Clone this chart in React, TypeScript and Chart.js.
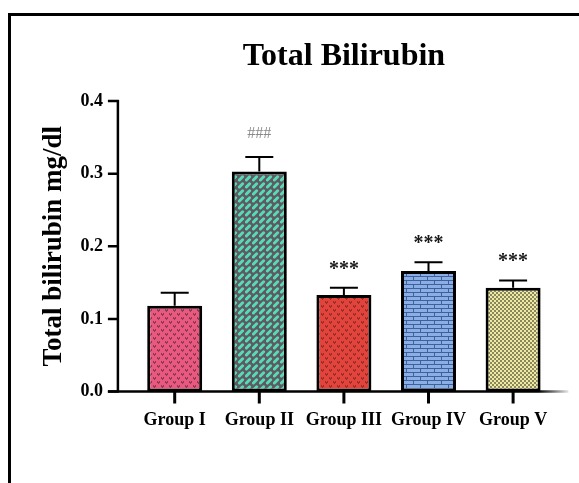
import React, { useEffect, useRef } from "react";
import { Chart, registerables } from "chart.js";

Chart.register(...registerables);

// Serum total bilirubin per treatment group (mean ± SEM, mg/dl)
const groups = ["Group I", "Group II", "Group III", "Group IV", "Group V"];
const bilirubinMean = [0.118, 0.303, 0.133, 0.166, 0.143];
const bilirubinSem = [0.018, 0.02, 0.01, 0.012, 0.01];
const significance = ["", "###", "***", "***", "***"];
const yTickValues = [0, 0.1, 0.2, 0.3, 0.4];

const SERIF = '"Liberation Serif", "Times New Roman", "DejaVu Serif", serif';
const W = 579;
const H = 483;

type Painter = (g: CanvasRenderingContext2D) => void;

function tile(ctx: CanvasRenderingContext2D, w: number, h: number, paint: Painter) {
  const c = document.createElement("canvas");
  c.width = w;
  c.height = h;
  const g = c.getContext("2d") as CanvasRenderingContext2D;
  paint(g);
  return ctx.createPattern(c, "repeat") as CanvasPattern;
}

function heartTile(base: string, mark: string): Painter {
  return (g) => {
    g.fillStyle = base;
    g.fillRect(0, 0, 8, 8);
    g.fillStyle = mark;
    for (const [ox, oy] of [[0, 0], [4, 4]]) {
      g.fillRect(ox + 1, oy + 1, 1, 1);
      g.fillRect(ox + 3, oy + 1, 1, 1);
      g.fillRect(ox + 1, oy + 2, 3, 1);
      g.fillRect(ox + 2, oy + 3, 1, 1);
    }
  };
}

const dashTile: Painter = (g) => {
  g.fillStyle = "#5e5a64";
  g.fillRect(0, 0, 7, 7);
  g.strokeStyle = "#56dcb4";
  g.lineWidth = 3;
  g.lineCap = "round";
  g.beginPath();
  g.moveTo(1.4, 5.0);
  g.lineTo(4.6, 1.8);
  g.stroke();
};

const brickTile: Painter = (g) => {
  g.fillStyle = "#8aaee6";
  g.fillRect(0, 0, 14, 8);
  g.fillStyle = "#40609a";
  g.fillRect(0, 0, 14, 1);
  g.fillRect(0, 4, 14, 1);
  g.fillRect(0, 0, 1, 4);
  g.fillRect(7, 4, 1, 4);
};

const checkTile: Painter = (g) => {
  g.fillStyle = "#eeeaa2";
  g.fillRect(0, 0, 4, 4);
  g.fillStyle = "#8a875e";
  g.fillRect(0, 0, 2, 2);
  g.fillRect(2, 2, 2, 2);
};

const frameAxes = {
  id: "frameAxes",
  afterDatasetsDraw(chart: any) {
    const { ctx } = chart;
    const yScale = chart.scales.y;
    const meta = chart.getDatasetMeta(0);
    ctx.save();
    ctx.strokeStyle = "#000";
    ctx.lineWidth = 2;
    meta.data.forEach((bar: any, i: number) => {
      const top = yScale.getPixelForValue(bilirubinMean[i] + bilirubinSem[i]);
      ctx.beginPath();
      ctx.moveTo(bar.x, bar.y);
      ctx.lineTo(bar.x, top);
      ctx.moveTo(bar.x - 14, top);
      ctx.lineTo(bar.x + 14, top);
      ctx.stroke();

      const mark = significance[i];
      if (mark) {
        const cy = top - 23;
        ctx.textAlign = "center";
        if (mark.startsWith("#")) {
          ctx.fillStyle = "#8a8a8a";
          ctx.font = `16px ${SERIF}`;
          ctx.textBaseline = "middle";
          ctx.fillText(mark, bar.x, cy);
        } else {
          ctx.fillStyle = "#1a1a1a";
          ctx.font = `bold 20px ${SERIF}`;
          ctx.textBaseline = "alphabetic";
          ctx.fillText(mark, bar.x, cy + 10);
        }
      }
    });
    ctx.restore();
  },
  afterDraw(chart: any) {
    const { ctx, chartArea } = chart;
    const yScale = chart.scales.y;
    const meta = chart.getDatasetMeta(0);
    const axisX = chartArea.left - 14.5;
    const base = chartArea.bottom;
    ctx.save();
    ctx.strokeStyle = "#000";
    ctx.lineCap = "butt";

    // y axis line and ticks
    ctx.lineWidth = 2.5;
    ctx.beginPath();
    ctx.moveTo(axisX, chartArea.top - 1);
    ctx.lineTo(axisX, base);
    yTickValues.forEach((v) => {
      const py = yScale.getPixelForValue(v);
      ctx.moveTo(axisX - 10, py);
      ctx.lineTo(axisX + 1, py);
    });
    ctx.stroke();

    // x axis line fading out on the right
    const right = chartArea.right + 13;
    const grad = ctx.createLinearGradient(right - 30, 0, right, 0);
    grad.addColorStop(0, "rgba(0,0,0,1)");
    grad.addColorStop(1, "rgba(0,0,0,0.1)");
    ctx.strokeStyle = grad;
    ctx.beginPath();
    ctx.moveTo(axisX - 10, base);
    ctx.lineTo(right, base);
    ctx.stroke();

    // category ticks below the axis
    ctx.strokeStyle = "#000";
    ctx.lineWidth = 3;
    ctx.beginPath();
    meta.data.forEach((bar: any) => {
      ctx.moveTo(bar.x, base);
      ctx.lineTo(bar.x, base + 12);
    });
    ctx.stroke();
    ctx.restore();
  },
};

export default function App() {
  const ref = useRef<HTMLCanvasElement | null>(null);

  useEffect(() => {
    const canvas = ref.current;
    if (!canvas) return;
    const ctx = canvas.getContext("2d") as CanvasRenderingContext2D;
    const fills = [
      tile(ctx, 8, 8, heartTile("#e9587f", "#8e3a52")),
      tile(ctx, 7, 7, dashTile),
      tile(ctx, 8, 8, heartTile("#e2443c", "#9a2e2c")),
      tile(ctx, 14, 8, brickTile),
      tile(ctx, 4, 4, checkTile),
    ];

    const chart = new Chart(ctx, {
      type: "bar",
      data: {
        labels: groups,
        datasets: [
          {
            label: "Total bilirubin",
            data: bilirubinMean,
            backgroundColor: fills,
            borderColor: "#000",
            borderWidth: 3,
            borderSkipped: false,
            barPercentage: 0.65,
            categoryPercentage: 1,
          },
        ],
      },
      options: {
        responsive: false,
        animation: false,
        devicePixelRatio: 1,
        layout: { padding: { left: 0, right: 23.6, top: 38, bottom: 0 } },
        plugins: {
          legend: { display: false },
          tooltip: { enabled: false },
          title: {
            display: true,
            text: "Total Bilirubin",
            fullSize: false,
            color: "#000",
            font: { family: SERIF, size: 32, weight: "bold", lineHeight: 1.2 },
            padding: { top: 0, bottom: 24.6 },
          },
        },
        scales: {
          x: {
            type: "category",
            offset: true,
            grid: { display: false, drawTicks: false },
            border: { display: false },
            ticks: {
              color: "#000",
              autoSkip: false,
              maxRotation: 0,
              padding: 18,
              font: { family: SERIF, size: 18, weight: "bold" },
            },
            afterFit: (scale: any) => {
              scale.height = 91.5;
            },
          },
          y: {
            min: 0,
            max: 0.4,
            grid: { display: false, drawTicks: false },
            border: { display: false },
            ticks: {
              stepSize: 0.1,
              color: "#000",
              padding: 29.5,
              font: { family: SERIF, size: 18, weight: "bold" },
              callback: (v: any) => Number(v).toFixed(1),
            },
            title: {
              display: true,
              text: "Total bilirubin mg/dl",
              color: "#000",
              font: { family: SERIF, size: 27, weight: "bold", lineHeight: 1.2 },
              padding: { top: 38, bottom: 0 },
            },
            afterFit: (scale: any) => {
              scale.width = 132.4;
            },
          },
        },
      },
      plugins: [frameAxes],
    });

    return () => chart.destroy();
  }, []);

  return (
    <div style={{ position: "fixed", left: 0, top: 0, width: W, height: H, background: "#fff" }}>
      <div
        style={{
          position: "absolute",
          left: 8,
          top: 13,
          right: 0,
          bottom: 0,
          borderLeft: "3px solid #000",
          borderTop: "3px solid #000",
        }}
      />
      <canvas ref={ref} width={W} height={H} style={{ position: "absolute", left: 0, top: 0 }} />
    </div>
  );
}
